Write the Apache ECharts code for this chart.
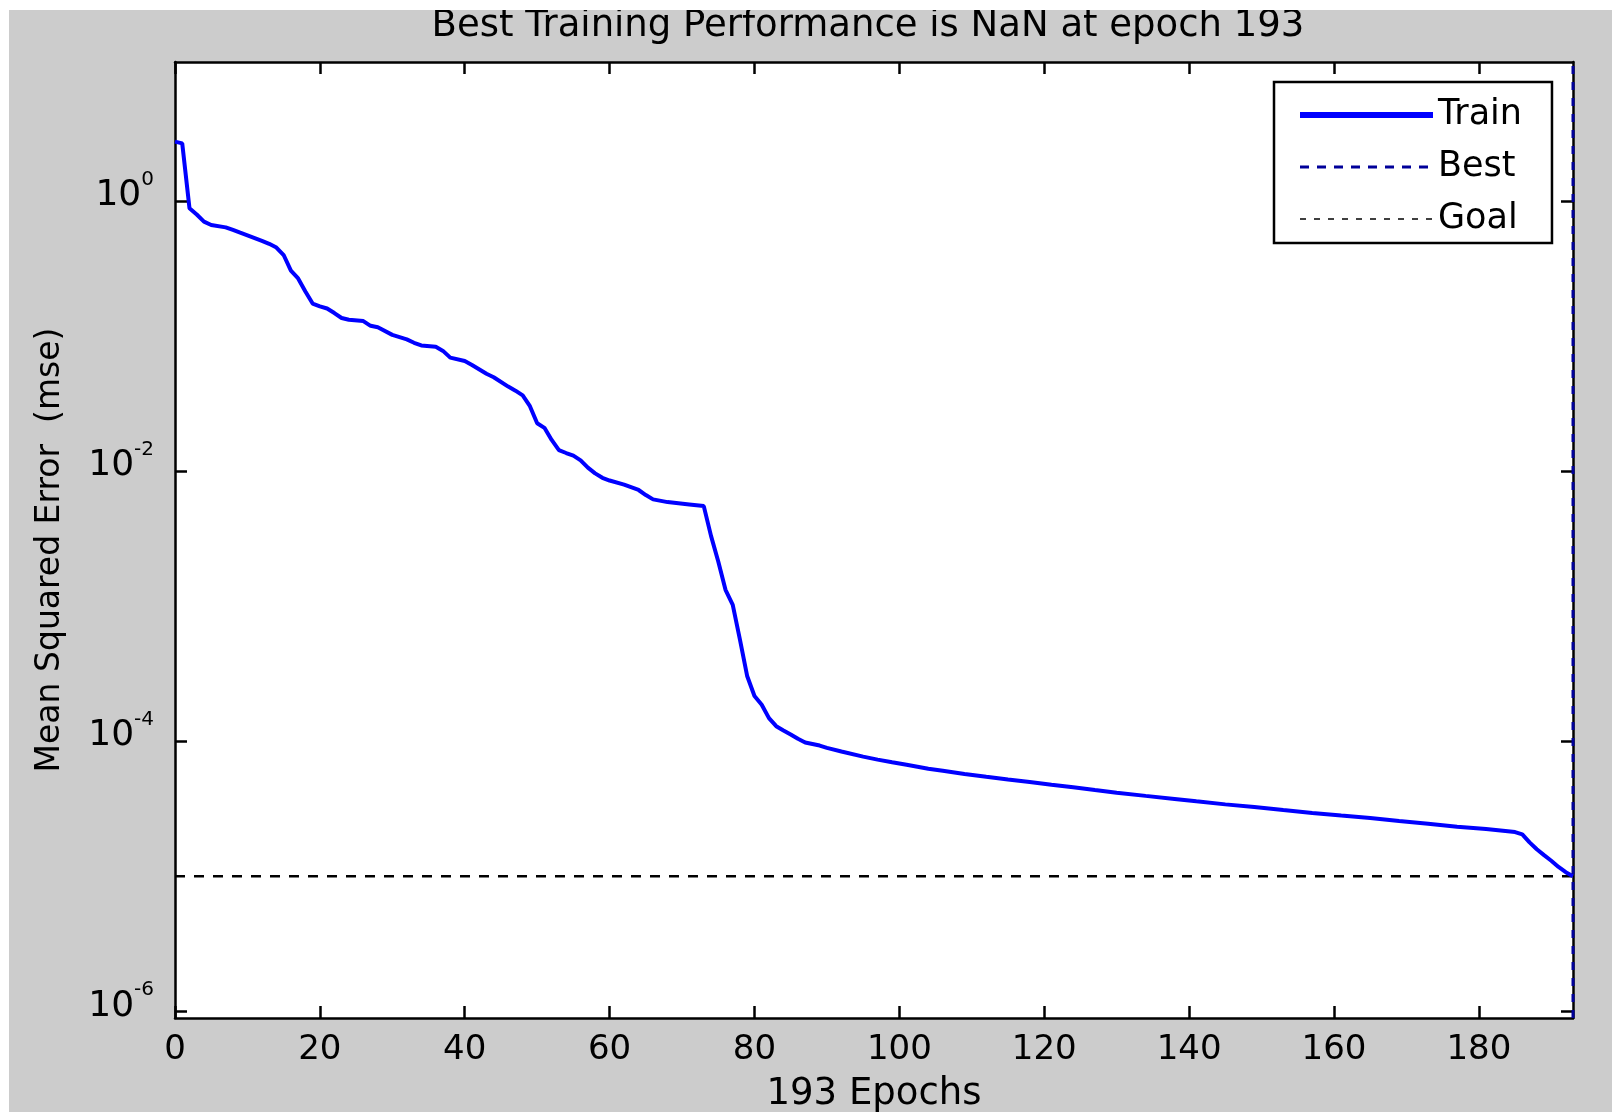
<!DOCTYPE html>
<html>
<head>
<meta charset="utf-8">
<script src="https://cdn.jsdelivr.net/npm/echarts@6/dist/echarts.min.js"></script>
<style>
  html, body { margin: 0; padding: 0; background: #ffffff; width: 1612px; height: 1112px; overflow: hidden; }
  #chart { position: absolute; left: 9px; top: 10px; width: 1603px; height: 1102px; }
</style>
</head>
<body>
<div id="chart"></div>
<script>
// ---- data ----
const titleText = 'Best Training Performance is NaN at epoch 193';
const xAxisTitle = '193 Epochs';
const yAxisTitle = 'Mean Squared Error  (mse)';
const xTicks = [0, 20, 40, 60, 80, 100, 120, 140, 160, 180];
const yTicks = [1e-6, 1e-4, 1e-2, 1];
const epochMax = 193;
const yMin = 8.9e-7;
const yMax = 10.7;

const trainEpochs = [0, 1, 2, 3, 4, 5, 7, 8, 9, 10, 11, 12, 13, 14, 15, 16, 17, 18, 19, 20,
  21, 22, 23, 24, 26, 27, 28, 30, 32, 33, 34, 36, 37, 38, 40, 41, 43, 44, 46, 47,
  48, 49, 50, 51, 52, 53, 54, 55, 56, 57, 58, 59, 60, 62, 64, 65, 66, 68, 71, 73,
  74, 75, 76, 77, 78, 79, 80, 81, 82, 83, 84, 85, 86, 87, 89, 90, 92, 95, 97, 99,
  101, 104, 106, 109, 112, 115, 118, 121, 124, 127, 130, 134, 138, 141, 145, 149, 153, 157, 161, 165,
  169, 173, 177, 181, 185, 186, 187, 188, 189, 190, 191, 192, 193];
const trainMse = [2.75, 2.67, 0.883, 0.794, 0.703, 0.664, 0.638, 0.610, 0.582, 0.556, 0.531, 0.507, 0.482, 0.452, 0.398, 0.305, 0.267, 0.214, 0.174, 0.166,
  0.160, 0.148, 0.136, 0.132, 0.129, 0.119, 0.116, 0.102, 0.0944, 0.0891, 0.0851, 0.0832, 0.0776, 0.0692, 0.0653, 0.0610, 0.0525, 0.0495, 0.0422, 0.0394,
  0.0363, 0.0302, 0.0226, 0.0209, 0.0170, 0.0143, 0.0136, 0.0130, 0.0120, 0.0106, 0.00962, 0.00891, 0.00851, 0.00794, 0.00724, 0.00664, 0.00617, 0.00589, 0.00566, 0.00550,
  0.00331, 0.00214, 0.00132, 0.00102, 0.000562, 0.000302, 0.000216, 0.000186, 0.000148, 0.000129, 0.000120, 0.000112, 0.000104, 9.77e-5, 9.27e-5, 8.91e-5, 8.38e-5, 7.67e-5, 7.29e-5, 6.97e-5,
  6.68e-5, 6.25e-5, 6.03e-5, 5.71e-5, 5.44e-5, 5.19e-5, 4.98e-5, 4.76e-5, 4.56e-5, 4.35e-5, 4.15e-5, 3.93e-5, 3.73e-5, 3.58e-5, 3.40e-5, 3.25e-5, 3.09e-5, 2.94e-5, 2.81e-5, 2.69e-5,
  2.56e-5, 2.44e-5, 2.32e-5, 2.23e-5, 2.12e-5, 2.04e-5, 1.78e-5, 1.58e-5, 1.43e-5, 1.30e-5, 1.17e-5, 1.07e-5, 1.00e-5];
const bestEpoch = 193;
const goalMse = 1e-5;
const legendNames = ['Train', 'Best', 'Goal'];

// ---- build ----
const FONT = 'DejaVu Sans';
const trainData = trainEpochs.map((e, i) => [e, trainMse[i]]);
const bestData = [[bestEpoch, yMin], [bestEpoch, yMax]];
const goalData = [[0, goalMse], [epochMax, goalMse]];

const chart = echarts.init(document.getElementById('chart'), null, { renderer: 'canvas' });

const tickStyle = { show: true, inside: true, length: 12, lineStyle: { color: '#000', width: 2.5 } };
const lineStyleAxis = { show: true, onZero: false, lineStyle: { color: '#000', width: 2.5 } };
const noSymbol = { color: 'transparent', borderWidth: 0, opacity: 0 };

chart.setOption({
  backgroundColor: '#cccccc',
  animation: false,
  title: {
    text: titleText,
    left: 859,
    textAlign: 'center',
    top: -2,
    padding: 0,
    textStyle: { fontFamily: FONT, fontSize: 37, fontWeight: 'normal', color: '#000' }
  },
  legend: {
    orient: 'vertical',
    left: 1265,
    top: 72,
    backgroundColor: '#ffffff',
    borderColor: '#000',
    borderWidth: 2.5,
    borderRadius: 0,
    padding: [13, 30, 4, 23],
    itemWidth: 133,
    itemHeight: 20,
    itemGap: 12,
    selectedMode: false,
    textStyle: { fontFamily: FONT, fontSize: 35, color: '#000', lineHeight: 40 },
    data: [
      { name: legendNames[0], lineStyle: { width: 6 }, itemStyle: noSymbol },
      { name: legendNames[1], lineStyle: { width: 3, type: [9, 8] }, itemStyle: noSymbol },
      { name: legendNames[2], lineStyle: { width: 1.5, type: [6, 8] }, itemStyle: noSymbol }
    ]
  },
  grid: {
    left: 166, right: 39, top: 52, bottom: 94,
    outerBoundsMode: 'none',
    containLabel: false,
    show: true, backgroundColor: '#ffffff', borderWidth: 0
  },
  xAxis: [
    {
      type: 'value', position: 'bottom', min: 0, max: epochMax,
      axisLine: lineStyleAxis,
      axisTick: Object.assign({ customValues: xTicks }, tickStyle),
      axisLabel: { customValues: xTicks, margin: 15, fontFamily: FONT, fontSize: 34, color: '#000' },
      splitLine: { show: false },
      name: xAxisTitle, nameLocation: 'middle', nameGap: 58,
      nameTextStyle: { fontFamily: FONT, fontSize: 37, color: '#000' }
    },
    {
      type: 'value', position: 'top', min: 0, max: epochMax,
      axisLine: lineStyleAxis,
      axisTick: Object.assign({ customValues: xTicks }, tickStyle),
      axisLabel: { show: false },
      splitLine: { show: false }
    }
  ],
  yAxis: [
    {
      type: 'log', logBase: 10, position: 'left', min: yMin, max: yMax,
      axisLine: lineStyleAxis,
      axisTick: Object.assign({ customValues: yTicks }, tickStyle),
      axisLabel: {
        customValues: yTicks, margin: 21,
        fontFamily: FONT, fontSize: 34, color: '#000',
        padding: [0, 0, 10, 0],
        formatter: function (v) { return '{b|10}{s|' + Math.round(Math.log10(v)) + '}'; },
        rich: {
          b: { fontFamily: FONT, fontSize: 36, lineHeight: 36, color: '#000', verticalAlign: 'bottom' },
          s: { fontFamily: FONT, fontSize: 20, lineHeight: 20, color: '#000', verticalAlign: 'bottom', padding: [0, 0, 24, 0] }
        }
      },
      splitLine: { show: false },
      minorTick: { show: false },
      name: yAxisTitle, nameLocation: 'middle', nameGap: 108,
      nameTextStyle: { fontFamily: FONT, fontSize: 33, color: '#000', padding: [0, 20, 0, 0] }
    },
    {
      type: 'log', logBase: 10, position: 'right', min: yMin, max: yMax,
      axisLine: lineStyleAxis,
      axisTick: Object.assign({ customValues: yTicks }, tickStyle),
      axisLabel: { show: false },
      splitLine: { show: false }
    }
  ],
  series: [
    {
      name: legendNames[0], type: 'line', xAxisIndex: 0, yAxisIndex: 0,
      data: trainData, showSymbol: false, symbol: 'none',
      lineStyle: { color: '#0000ff', width: 4 }, itemStyle: { color: '#0000ff' },
      z: 5
    },
    {
      name: legendNames[1], type: 'line', xAxisIndex: 0, yAxisIndex: 0,
      data: bestData, showSymbol: false, symbol: 'none', clip: false,
      lineStyle: { color: '#000099', width: 3, type: [8, 8] }, itemStyle: { color: '#000099' },
      z: 6
    },
    {
      name: legendNames[2], type: 'line', xAxisIndex: 0, yAxisIndex: 0,
      data: goalData, showSymbol: false, symbol: 'none',
      lineStyle: { color: '#000000', width: 2.5, type: [10, 9] }, itemStyle: { color: '#000000' },
      z: 4
    }
  ]
});
</script>
</body>
</html>
